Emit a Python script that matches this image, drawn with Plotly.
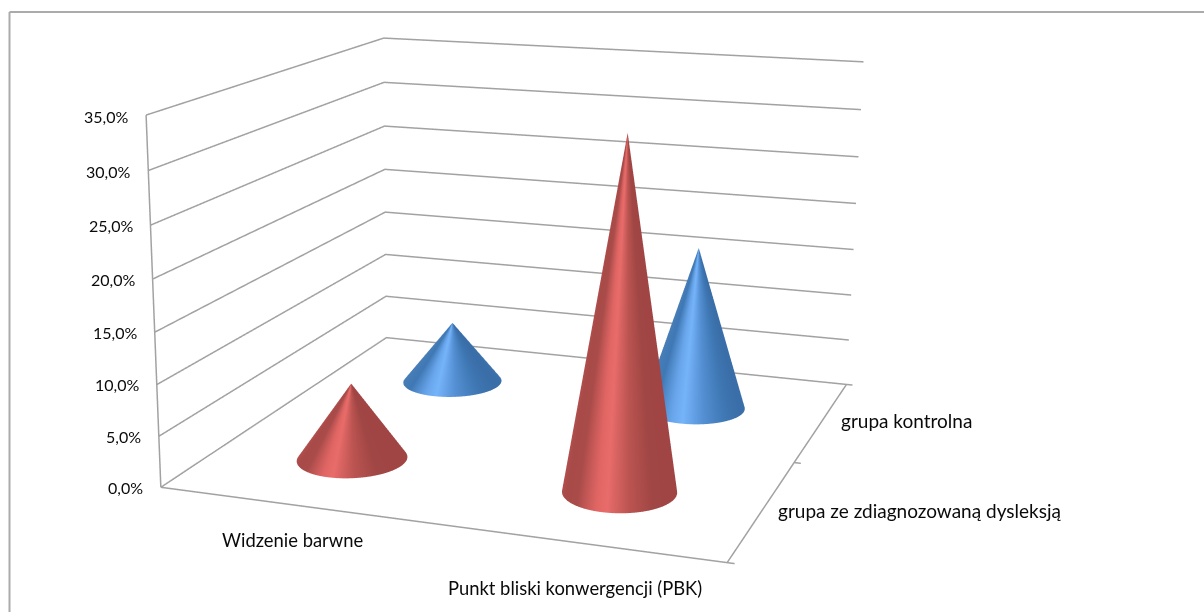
import numpy as np
import plotly.graph_objects as go

categories = ["Widzenie barwne", "Punkt bliski konwergencji (PBK)"]
series_names = ["grupa ze zdiagnozowaną dysleksją", "grupa kontrolna"]
dysleksja = [7.6, 33.6]
kontrolna = [6.6, 17.1]
z_ticks = [0, 5, 10, 15, 20, 25, 30, 35]
z_labels = ["0,0%", "5,0%", "10,0%", "15,0%", "20,0%", "25,0%", "30,0%", "35,0%"]

W, H = 1204, 612
Z_MAX = 35.0
# calibration of Excel's skewed 3-D box: (box corner) -> (page pixel)
BOX_CAL = [((0, 0, 0), (162, 487)), ((1, 0, 0), (727, 563)), ((1, 1, 0), (847, 384)),
           ((0, 1, 0), (385, 338)), ((0, 0, 1), (145, 115)), ((0, 1, 1), (385, 38)),
           ((1, 1, 1), (863, 62))]
A = []
for (x, y, z), (u, v) in BOX_CAL:
    A.append([x, y, z, 1, 0, 0, 0, 0, -u*x, -u*y, -u*z, -u])
    A.append([0, 0, 0, 0, x, y, z, 1, -v*x, -v*y, -v*z, -v])
M = np.linalg.svd(np.array(A, float))[2][-1].reshape(3, 4)
D = 1.25
PX, PY = W/2, H/2
F = H/2/np.tan(np.pi/8)
M = M * D / (M[2] @ np.array([.5, .5, .5, 1]))


def box(cx, cy, val):
    cx, cy, val = np.broadcast_arrays(np.asarray(cx, float), np.asarray(cy, float), np.asarray(val, float))
    w = np.stack([cx, cy, val/Z_MAX, np.ones_like(cx)], -1)
    h = w @ M.T
    return (h[..., 0]-PX*h[..., 2])/F, h[..., 2]-D, (PY*h[..., 2]-h[..., 1])/F


fig = go.Figure()
LINE = "#a2a2a2"


def seg(p, q=None, *rest):
    pts = [p, q, *rest]
    xs, ys, zs = box([a[0] for a in pts], [a[1] for a in pts], [a[2] for a in pts])
    fig.add_trace(go.Scatter3d(x=xs, y=ys, z=zs, mode="lines", line=dict(color=LINE, width=3),
                               hoverinfo="skip", showlegend=False))


for t in z_ticks:
    seg((0, 0, t), (0, 1, t), (1, 1, t))
seg((0, 0, 0), (0, 0, Z_MAX))
seg((0, 0, 0), (1, 0, 0), (1, 1, 0))
for y in [0, .5, 1]:
    seg((1, y, 0), (1.012, y, 0))

RED = [[0, "#b4514f"], [.12, "#a84a48"], [.25, "#a84b49"], [.45, "#e06664"], [.55, "#e86c6a"], [.72, "#bd5552"], [.9, "#a04644"], [1, "#a04544"]]
BLUE = [[0, "#4a7fb8"], [.2, "#3f78b4"], [.42, "#69a6ec"], [.53, "#76b4fa"], [.72, "#5590d4"], [.9, "#3f78b4"], [1, "#3a6ea8"]]
RX, RY = 0.098, 0.105
th = np.linspace(0, 2*np.pi, 121)
ts = np.linspace(0, 1, 9)
T, TH = np.meshgrid(ts, th)
for sidx, (vals, cs) in enumerate([(kontrolna, BLUE), (dysleksja, RED)]):
    cy = .75 if sidx == 0 else .25
    for cidx, v in enumerate(vals):
        cx = .25+.5*cidx
        r = 1-T
        X, Y, Z = box(cx+RX*r*np.cos(TH), cy+RY*r*np.sin(TH), v*T)
        fig.add_trace(go.Surface(x=X, y=Y, z=Z, surfacecolor=(np.cos(TH)+1)/2, cmin=0, cmax=1,
                                 colorscale=cs, showscale=False, hoverinfo="skip",
                                 lighting=dict(ambient=1, diffuse=0, specular=0, roughness=1, fresnel=0),
                                 contours=dict(x=dict(highlight=False), y=dict(highlight=False), z=dict(highlight=False))))

ann = []


def label(text, cx, cy, val, size, **kw):
    x, y, z = box(cx, cy, val)
    ann.append(dict(x=float(x), y=float(y), z=float(z), text=text, showarrow=False,
                    font=dict(family="Lato", size=size, color="#0a0a0a"), **kw))


for t, s in zip(z_ticks, z_labels):
    label(s, -0.03, 0, t, 16, xanchor="right", yanchor="middle", yshift=-2)
cat_shift = [(54, 6), (40, 0)]
for i, c in enumerate(categories):
    label(c, .25+.5*i, -.2, 0, 18.4, xanchor="center", yanchor="middle", xshift=cat_shift[i][0], yshift=cat_shift[i][1])
ser_shift = [(-10, 2), (-4, 3)]
for i, s in enumerate(series_names):
    label(s, 1.04, .25+.5*i, 0, 19, xanchor="left", yanchor="middle", xshift=ser_shift[i][0], yshift=ser_shift[i][1])

ax = dict(visible=False, range=[-1, 1], autorange=False, showspikes=False)
fig.update_layout(
    width=W, height=H, margin=dict(l=0, r=0, t=0, b=0), paper_bgcolor="white", showlegend=False,
    hovermode=False,
    scene=dict(domain=dict(x=[0, 1], y=[0, 1]), xaxis=ax, yaxis=ax, zaxis=ax,
               aspectmode="manual", aspectratio=dict(x=2, y=2, z=2),
               camera=dict(eye=dict(x=0, y=-D, z=0), center=dict(x=0, y=0, z=0), up=dict(x=0, y=0, z=1),
                           projection=dict(type="perspective")),
               annotations=ann, bgcolor="white"),
    shapes=[dict(type="line", xref="paper", yref="paper", x0=9.5/W, x1=1, y0=1-12/H, y1=1-12/H, line=dict(color="#ababab", width=2)),
            dict(type="line", xref="paper", yref="paper", x0=9.5/W, x1=9.5/W, y0=0, y1=1-12/H, line=dict(color="#ababab", width=2))],
)
fig.write_html("out.html", config=dict(displayModeBar=False),
               post_script="document.body.style.margin='0';document.documentElement.style.overflow='hidden';")
